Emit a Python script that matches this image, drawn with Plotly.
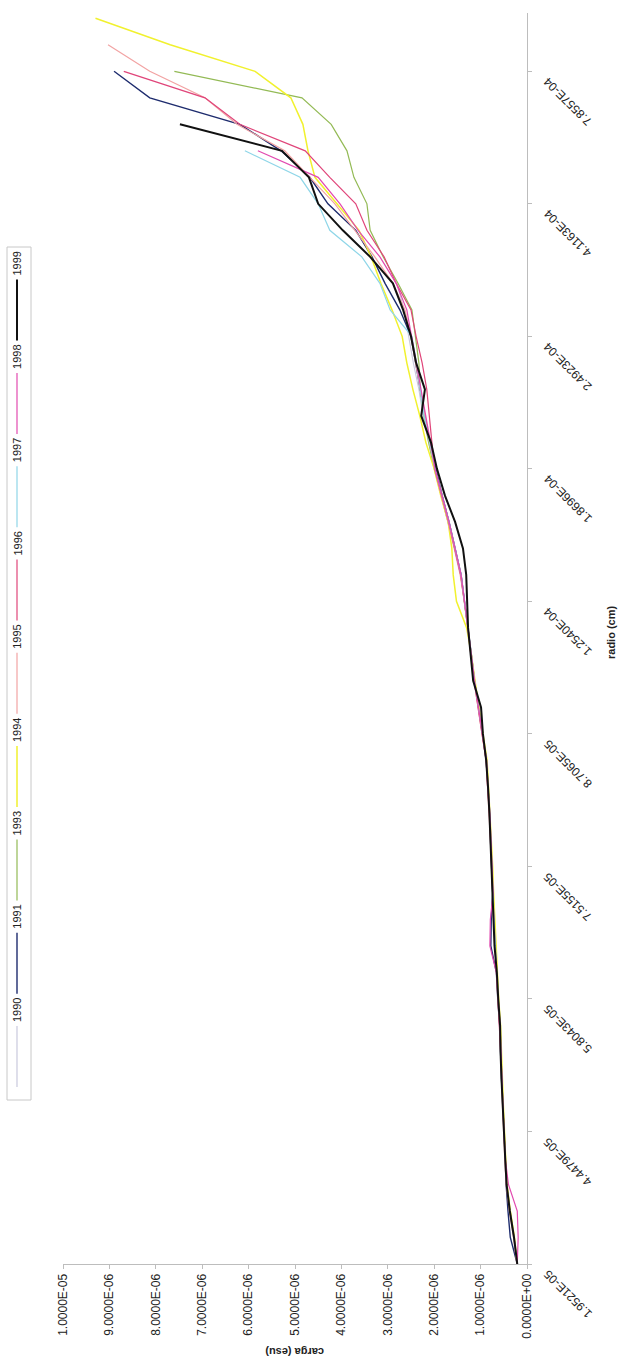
import plotly.graph_objects as go

# Radio classes (category axis) – only every fifth class carries a label
radio_labels = ["1.9521E-05", "4.4479E-05", "5.8043E-05", "7.5155E-05", "8.7065E-05",
                "1.2540E-04", "1.8696E-04", "2.4923E-04", "4.1163E-04", "7.8557E-04"]
label_every = 5
n_classes = 48

carga_ticks = [0, 1e-6, 2e-6, 3e-6, 4e-6, 5e-6, 6e-6, 7e-6, 8e-6, 9e-6, 1e-5]
carga_labels = ["0.0000E+00", "1.0000E-06", "2.0000E-06", "3.0000E-06", "4.0000E-06",
                "5.0000E-06", "6.0000E-06", "7.0000E-06", "8.0000E-06", "9.0000E-06",
                "1.0000E-05"]

years = ["1990", "1991", "1993", "1994", "1995", "1996", "1997", "1998", "1999"]
colors = ["#C9C9DD", "#1E2C6E", "#93BA55", "#F1F12E", "#F2A3A3",
          "#E0457A", "#8FD6E8", "#E24AB0", "#111111"]
widths = [1.1, 1.4, 1.2, 1.5, 1.2, 1.2, 1.2, 1.2, 2.0]

# carga (in 1e-6 esu) for each radio class, per year
c1990 = [0.21, 0.28, 0.37, 0.44, 0.47, 0.50, 0.52, 0.54, 0.56, 0.58, 0.62, 0.65, 0.69, 0.71,
         0.73, 0.75, 0.78, 0.80, 0.84, 0.87, 0.96, 1.05, 1.13, 1.20, 1.27, 1.34, 1.42, 1.55,
         1.68, 1.83, 1.98, 2.12, 2.24, 2.33, 2.45, 2.55, 2.65, 2.80]
c1991 = [0.21, 0.36, 0.41, 0.45, 0.47, 0.50, 0.52, 0.55, 0.57, 0.59, 0.63, 0.66, 0.78, 0.77,
         0.74, 0.76, 0.78, 0.81, 0.84, 0.88, 0.96, 1.05, 1.13, 1.20, 1.27, 1.34, 1.42, 1.55,
         1.68, 1.83, 1.97, 2.10, 2.20, 2.30, 2.40, 2.50, 2.74, 3.06, 3.34, 3.69, 4.29, 4.68,
         5.30, 6.19, 8.13, 8.90]
c1993 = [0.21, 0.28, 0.37, 0.44, 0.47, 0.50, 0.52, 0.54, 0.56, 0.58, 0.62, 0.65, 0.69, 0.71,
         0.73, 0.75, 0.78, 0.81, 0.84, 0.87, 0.96, 1.05, 1.13, 1.20, 1.28, 1.35, 1.43, 1.56,
         1.70, 1.85, 2.00, 2.12, 2.22, 2.30, 2.33, 2.41, 2.48, 2.78, 3.10, 3.38, 3.45, 3.73,
         3.88, 4.22, 4.85, 7.60]
c1994 = [0.21, 0.27, 0.36, 0.43, 0.46, 0.49, 0.51, 0.53, 0.55, 0.57, 0.61, 0.64, 0.67, 0.70,
         0.72, 0.74, 0.77, 0.79, 0.83, 0.86, 0.95, 1.04, 1.12, 1.20, 1.30, 1.52, 1.59, 1.62,
         1.70, 1.86, 2.00, 2.18, 2.31, 2.46, 2.59, 2.69, 2.91, 3.15, 3.36, 3.62, 4.09, 4.57,
         4.72, 4.83, 5.09, 5.86, 7.69, 9.30]
c1995 = [0.22, 0.29, 0.38, 0.45, 0.48, 0.51, 0.53, 0.55, 0.57, 0.59, 0.63, 0.66, 0.70, 0.72,
         0.74, 0.76, 0.79, 0.82, 0.85, 0.88, 0.97, 1.06, 1.14, 1.21, 1.28, 1.35, 1.44, 1.57,
         1.70, 1.85, 1.99, 2.10, 2.20, 2.30, 2.40, 2.50, 2.63, 2.89, 3.28, 3.71, 4.14, 4.68,
         5.22, 6.25, 6.94, 8.13, 9.03]
c1996 = [0.21, 0.28, 0.37, 0.44, 0.47, 0.50, 0.52, 0.54, 0.57, 0.59, 0.62, 0.66, 0.69, 0.71,
         0.74, 0.76, 0.78, 0.81, 0.85, 0.88, 0.97, 1.06, 1.14, 1.21, 1.27, 1.35, 1.43, 1.56,
         1.69, 1.84, 1.99, 2.05, 2.11, 2.16, 2.26, 2.39, 2.50, 2.82, 3.08, 3.45, 3.69, 4.25,
         4.78, 6.19, 6.94, 8.69]
c1997 = [0.21, 0.28, 0.37, 0.44, 0.47, 0.50, 0.52, 0.54, 0.56, 0.58, 0.62, 0.65, 0.69, 0.71,
         0.73, 0.75, 0.78, 0.80, 0.84, 0.87, 0.96, 1.05, 1.13, 1.20, 1.27, 1.34, 1.42, 1.55,
         1.68, 1.83, 1.98, 2.10, 2.22, 2.30, 2.38, 2.48, 2.95, 3.17, 3.56, 4.25, 4.50, 4.89,
         6.08]
c1998 = [0.21, 0.19, 0.21, 0.40, 0.47, 0.50, 0.52, 0.54, 0.56, 0.58, 0.62, 0.66, 0.80, 0.79,
         0.73, 0.75, 0.78, 0.80, 0.84, 0.87, 0.96, 1.05, 1.13, 1.20, 1.27, 1.34, 1.42, 1.55,
         1.68, 1.83, 1.98, 2.08, 2.18, 2.28, 2.38, 2.48, 2.59, 2.82, 3.17, 3.64, 4.03, 4.50,
         5.80]
c1999 = [0.21, 0.28, 0.37, 0.44, 0.47, 0.50, 0.53, 0.55, 0.57, 0.58, 0.62, 0.65, 0.70, 0.72,
         0.74, 0.76, 0.79, 0.81, 0.84, 0.88, 0.95, 0.99, 1.16, 1.21, 1.27, 1.29, 1.31, 1.38,
         1.55, 1.77, 1.94, 2.07, 2.28, 2.20, 2.39, 2.50, 2.67, 2.89, 3.38, 3.97, 4.50, 4.70,
         5.28, 7.48]

series = [c1990, c1991, c1993, c1994, c1995, c1996, c1997, c1998, c1999]
unit = 1e-6

# page geometry (pixels)
W, H = 619, 1367
PL, PR, PT, PB = 63, 527, 13, 1264   # plot area edges


def px(x):
    return (x - PL) / (PR - PL)


def py(y):
    return (PB - y) / (PB - PT)


fig = go.Figure()
for name, vals, col, lw in zip(years, series, colors, widths):
    fig.add_trace(go.Scatter(
        x=[v * unit for v in vals],
        y=list(range(len(vals))),
        mode="lines",
        name=name,
        line=dict(color=col, width=lw),
        showlegend=False,
    ))

font_family = "Liberation Sans, Arial, sans-serif"
axis_col = "#BDBDBD"

fig.update_layout(
    width=W, height=H,
    margin=dict(l=PL, r=W - PR, t=PT, b=H - PB),
    paper_bgcolor="white", plot_bgcolor="white",
    font=dict(family=font_family, size=12, color="#222222"),
    xaxis=dict(
        range=[1e-5, 0],
        tickvals=carga_ticks, ticktext=carga_labels,
        tickangle=-90, ticks="outside", ticklen=4, tickcolor=axis_col,
        showline=True, linecolor=axis_col, linewidth=1,
        showgrid=False, zeroline=False,
        tickfont=dict(size=12, color="#222222"),
    ),
    yaxis=dict(
        range=[0, n_classes - 0.8],
        side="right",
        tickvals=[i * label_every for i in range(len(radio_labels))],
        showticklabels=False,
        ticks="outside", ticklen=4, tickcolor=axis_col,
        showline=True, linecolor=axis_col, linewidth=1,
        showgrid=False, zeroline=False,
    ),
)

annotations = []
# rotated radio class labels
for k, lab in enumerate(radio_labels):
    annotations.append(dict(
        x=1, xref="paper", y=k * label_every, yref="y",
        xshift=41, yshift=-30,
        text=lab, textangle=-135, showarrow=False,
        xanchor="center", yanchor="middle",
        font=dict(size=12, color="#222222"),
    ))

# axis titles
annotations.append(dict(
    x=1, xref="paper", y=py(632), yref="paper", xshift=84,
    text="<b>radio (cm)</b>", textangle=-90, showarrow=False,
    xanchor="center", yanchor="middle", font=dict(size=11, color="#222222"),
))
annotations.append(dict(
    x=0.5, xref="paper", y=py(1352), yref="paper",
    text="<b>carga (esu)</b>", textangle=180, showarrow=False,
    xanchor="center", yanchor="middle", font=dict(size=11, color="#222222"),
))

# legend box with vertical entries
shapes = [dict(type="rect", xref="paper", yref="paper",
               x0=px(7), x1=px(31), y0=py(247), y1=py(1100),
               line=dict(color="#C8C8C8", width=1), fillcolor="white", layer="below")]
spacing = 93.3
for j, (name, col, lw) in enumerate(zip(years, colors, widths)):
    yt = 1010 - spacing * j
    annotations.append(dict(
        x=px(17), xref="paper", y=py(yt), yref="paper",
        text=name, textangle=-90, showarrow=False,
        xanchor="center", yanchor="middle", font=dict(size=11, color="#222222"),
    ))
    shapes.append(dict(
        type="line", xref="paper", yref="paper",
        x0=px(17), x1=px(17), y0=py(yt + 16), y1=py(yt + 77),
        line=dict(color=col, width=max(lw, 1.2)),
    ))

fig.update_layout(annotations=annotations, shapes=shapes)
fig.write_html("out.html")
